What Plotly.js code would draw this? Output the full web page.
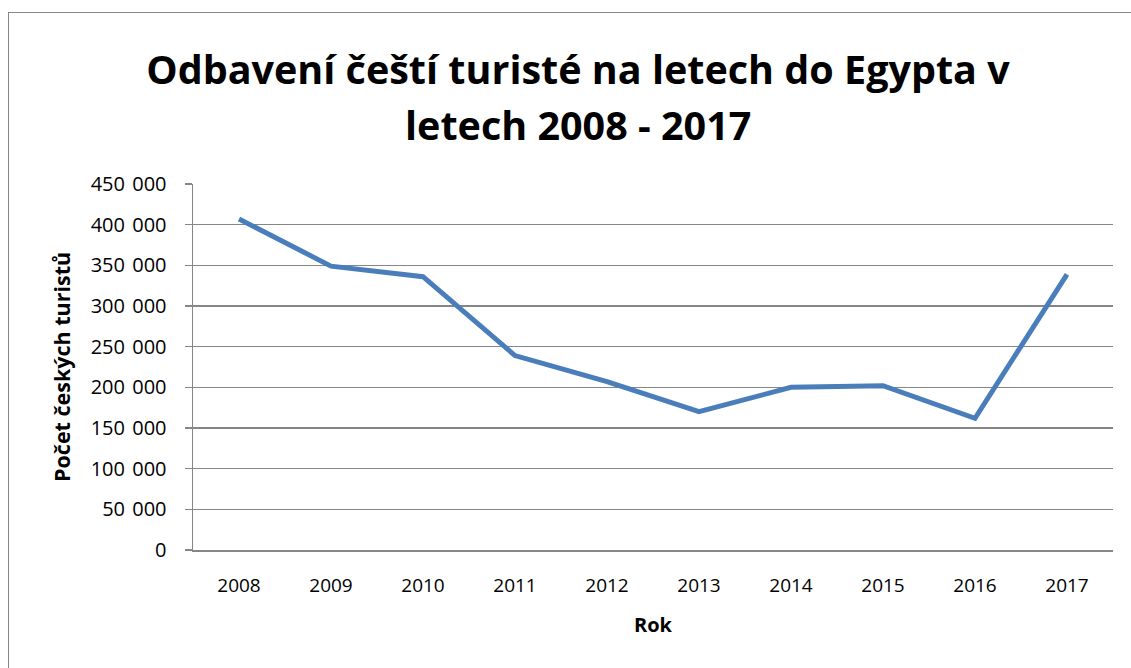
<!DOCTYPE html>
<html><head><meta charset="utf-8">
<script src="https://cdn.plot.ly/plotly-3.0.1.min.js"></script>
<style>
body{margin:0;padding:0;background:#fff;}
#wrap{position:relative;width:1131px;height:668px;}
#chart{position:absolute;left:0;top:0;width:1131px;height:668px;}
#frame{position:absolute;left:8px;top:12px;width:1140px;height:700px;border:1px solid #868686;box-sizing:border-box;pointer-events:none;}
</style></head>
<body><div id="wrap"><div id="chart"></div><div id="frame"></div></div>
<script>
const years = ["2008","2009","2010","2011","2012","2013","2014","2015","2016","2017"];
const tourists = [407000, 349000, 336000, 239000, 207000, 170000, 200000, 202000, 162000, 339000];
const yTickVals = [0,50000,100000,150000,200000,250000,300000,350000,400000,450000];
const yTickText = ["0","50 \u200A000","100 \u200A000","150 \u200A000","200 \u200A000","250 \u200A000","300 \u200A000","350 \u200A000","400 \u200A000","450 \u200A000"];
const titleLine1 = "Odbavení čeští turisté na letech do Egypta v";
const titleLine2 = "letech 2008 - 2017";
const xTitle = "Rok";
const yTitle = "Počet českých turistů";

const font = "Open Sans, DejaVu Sans, sans-serif";
const titleFont = {family: font, size: 39.5, color: "#000", weight: "bold"};
Plotly.newPlot("chart", [{
  x: years, y: tourists, type: "scatter", mode: "lines",
  line: {color: "#4a7ebb", width: 5}
}], {
  width: 1131, height: 668,
  margin: {l: 193, r: 18, t: 184, b: 118},
  paper_bgcolor: "#fff", plot_bgcolor: "#fff",
  showlegend: false,
  font: {family: font, color: "#000"},
  title: {text: titleLine1, font: titleFont,
          x: 0.511, xref: "container", xanchor: "center", y: 0.895, yref: "container", yanchor: "middle"},
  annotations: [
    {text: titleLine2, font: titleFont, showarrow: false,
     x: 0.4185, xref: "paper", y: 1.161, yref: "paper", xanchor: "center", yanchor: "middle"},
    {text: yTitle, font: {family: font, size: 21.5, weight: "bold", color: "#000"}, showarrow: false,
     textangle: -90, x: -0.1435, xref: "paper", y: 0.5, yref: "paper", xanchor: "center", yanchor: "middle"}
  ],
  xaxis: {type: "category", range: [-0.5, 9.5], showgrid: false, zeroline: false,
          showline: true, linecolor: "#868686", linewidth: 1.5, ticks: "",
          ticklabelstandoff: 18,
          tickfont: {family: font, size: 19, color: "#000"},
          title: {text: xTitle, font: {family: font, size: 20, weight: "bold", color: "#000"}, standoff: 20}},
  yaxis: {range: [0, 450000], tickvals: yTickVals, ticktext: yTickText,
          showgrid: true, gridcolor: "#868686", gridwidth: 1.5, zeroline: false,
          showline: true, linecolor: "#868686", linewidth: 1.5,
          ticks: "outside", ticklen: 7, tickcolor: "#868686", tickwidth: 1.5,
          ticklabelstandoff: 14,
          tickfont: {family: font, size: 20, color: "#000"}}
}, {displayModeBar: false, staticPlot: true});
</script></body></html>
